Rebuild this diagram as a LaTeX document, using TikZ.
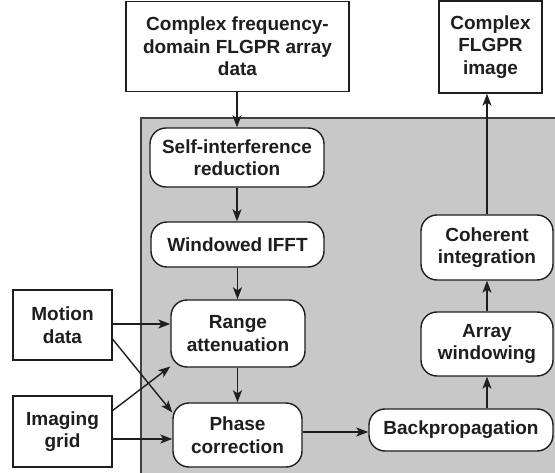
\documentclass[tikz,border=0pt]{standalone}
\usepackage{fontspec}
\setmainfont{Liberation Sans}
\usetikzlibrary{arrows.meta,calc}
\definecolor{panelgray}{RGB}{200,200,200}
\definecolor{ink}{RGB}{30,30,30}
\tikzset{
  sqbox/.style={draw=ink, line width=1.4pt, fill=white, inner sep=0pt, align=center, font=\bfseries\fontsize{19}{22.5}\selectfont, text=ink},
  rbox/.style={sqbox, rounded corners=16pt},
  arr/.style={draw=ink, line width=1.4pt, -{Stealth[length=12pt,width=9pt,inset=3pt]}},
}
\begin{document}
\begin{tikzpicture}[x=1pt,y=-1pt]
\useasboundingbox (0,0) rectangle (555,473);
% panel
\fill[panelgray] (141,118) rectangle (556,474);
\draw[ink!85, line width=1.5pt] (141,474) -- (141,118) -- (556,118);
% nodes
\node[sqbox, minimum width=223pt, minimum height=90pt] (top) at (237.5,46.5) {Complex frequency-\\domain FLGPR array\\data};
\node[sqbox, minimum width=103pt, minimum height=92pt] (img) at (490.5,47) {Complex\\FLGPR\\image};
\node[rbox, minimum width=174pt, minimum height=59pt] (self) at (237,157.5) {Self-interference\\reduction};
\node[rbox, minimum width=173pt, minimum height=45pt] (ifft) at (237.5,244.5) {Windowed IFFT};
\node[rbox, minimum width=134pt, minimum height=67pt] (range) at (238,333.5) {Range\\attenuation};
\node[rbox, minimum width=129pt, minimum height=64pt] (phase) at (237.5,435) {Phase\\correction};
\node[sqbox, minimum width=99pt, minimum height=70pt] (motion) at (62.5,325) {Motion\\data};
\node[sqbox, minimum width=99pt, minimum height=71pt] (grid) at (62.5,431.5) {Imaging\\grid};
\node[rbox, minimum width=184pt, minimum height=42pt] (back) at (461,430) {Backpropagation};
\node[rbox, minimum width=132pt, minimum height=64pt] (arrw) at (487,344) {Array\\windowing};
\node[rbox, minimum width=132pt, minimum height=65pt] (coh) at (487,247.5) {Coherent\\integration};
% connectors
\draw[arr] (top.south -| self.north) -- (self.north);
\draw[arr] (self.south) -- (self.south |- ifft.north);
\draw[arr] (ifft.south) -- (ifft.south |- range.north);
\draw[arr] (phase.north |- range.south) -- (phase.north);
\coordinate (m1) at ($(motion.east)+(0,-1)$);
\draw[arr] (m1) -- (m1 -| range.west);
\coordinate (m2) at ($(motion.north east)!0.7!(motion.south east)$);
\draw[arr] (m2) -- (phase.161);
\coordinate (g1) at ($(grid.north east)!0.21!(grid.south east)$);
\draw[arr] (g1) -- (range.206);
\coordinate (g2) at ($(grid.east)+(0,7.5)$);
\draw[arr] (g2) -- (g2 -| phase.west);
\coordinate (p1) at ($(back.west)+(0,2)$);
\draw[arr] (p1 -| phase.east) -- (p1);
\draw[arr] (back.north -| arrw.south) -- (arrw.south);
\draw[arr] (arrw.north) -- (coh.south);
\draw[arr] (coh.north) -- (coh.north |- img.south);
\end{tikzpicture}
\end{document}
